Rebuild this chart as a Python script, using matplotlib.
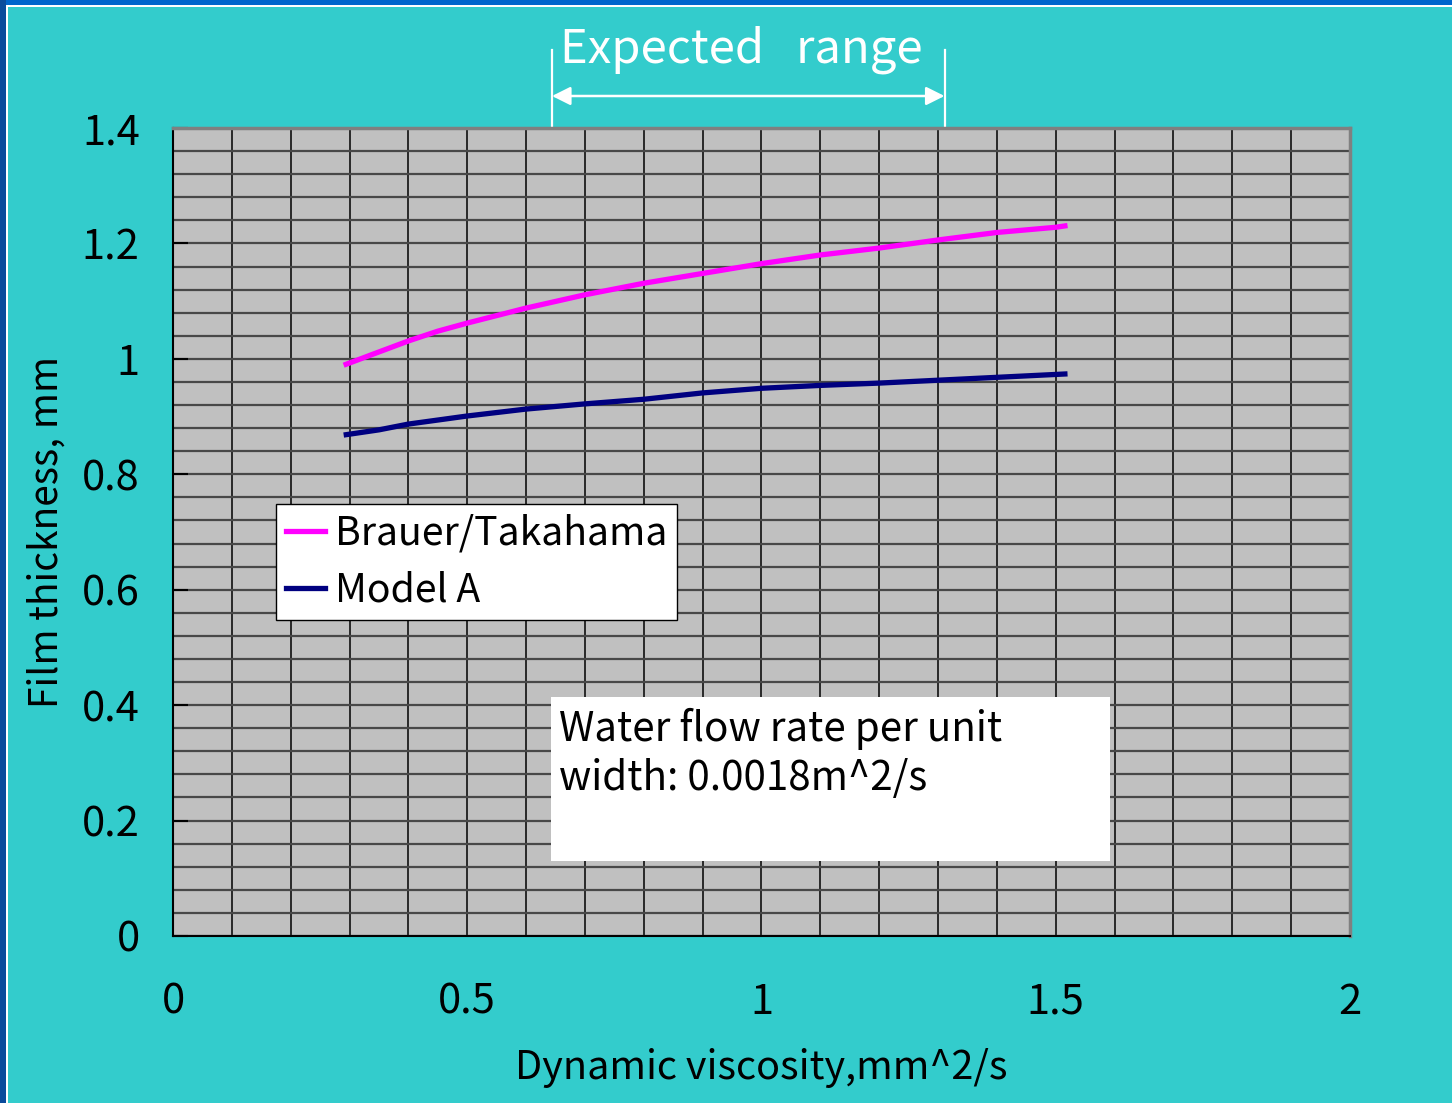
import matplotlib
matplotlib.use("Agg")
import matplotlib.pyplot as plt
from matplotlib.patches import Rectangle
from matplotlib.lines import Line2D
from matplotlib.ticker import MultipleLocator

plt.rcParams['font.family'] = ['Noto Sans CJK JP', 'DejaVu Sans']

# Film thickness vs. dynamic viscosity
viscosity = [0.29, 0.35, 0.4, 0.45, 0.5, 0.6, 0.7, 0.8, 0.9, 1.0, 1.1, 1.2, 1.3,
             1.4, 1.5, 1.52]
brauer = [0.989, 1.012, 1.031, 1.048, 1.062, 1.088, 1.111, 1.131, 1.148, 1.165,
          1.180, 1.192, 1.206, 1.219, 1.228, 1.231]
model_a = [0.868, 0.877, 0.887, 0.894, 0.901, 0.913, 0.922, 0.930, 0.941, 0.949,
           0.954, 0.958, 0.963, 0.968, 0.973, 0.974]

expected_range = (0.644, 1.311)
x_ticks = [0, 0.5, 1, 1.5, 2]
x_tick_labels = ['0', '0.5', '1', '1.5', '2']
y_ticks = [0, 0.2, 0.4, 0.6, 0.8, 1.0, 1.2, 1.4]
y_tick_labels = ['0', '0.2', '0.4', '0.6', '0.8', '1', '1.2', '1.4']

W, H = 1452, 1103
fig = plt.figure(figsize=(W / 100, H / 100), dpi=100)
fig.patch.set_facecolor('#33CCCC')

# slide frame: blue edge with a thin white rule
fig.patches.append(Rectangle((0, 1 - 5 / H), 1, 5 / H, transform=fig.transFigure,
                             facecolor='#0066CC', edgecolor='none', zorder=0))
fig.patches.append(Rectangle((0, 1 - 7 / H), 1, 2 / H, transform=fig.transFigure,
                             facecolor='white', edgecolor='none', zorder=0))
fig.patches.append(Rectangle((0, 0), 6 / W, 1, transform=fig.transFigure,
                             facecolor='#0A4C9C', edgecolor='none', zorder=0))
fig.patches.append(Rectangle((6 / W, 0), 2 / W, 1 - 5 / H, transform=fig.transFigure,
                             facecolor='white', edgecolor='none', zorder=0))

ax = fig.add_axes([173 / W, 1 - 936 / H, (1350 - 173) / W, (936 - 128) / H])
ax.set_facecolor('#C0C0C0')
ax.set_xlim(0, 2)
ax.set_ylim(0, 1.4)

ax.set_xticks(x_ticks)
ax.set_xticklabels(x_tick_labels)
ax.set_yticks(y_ticks)
ax.set_yticklabels(y_tick_labels)
ax.xaxis.set_minor_locator(MultipleLocator(0.1))
ax.yaxis.set_minor_locator(MultipleLocator(0.04))
ax.tick_params(axis='y', which='major', direction='in', length=11, width=1.5,
               color='black', labelsize=30, pad=24)
ax.tick_params(axis='x', which='major', length=0, labelsize=30, pad=33)
ax.tick_params(which='minor', length=0)

ax.grid(True, axis='x', which='both', color='black', linewidth=1.1)
ax.grid(True, axis='y', which='both', color='#484848', linewidth=1.6)
ax.set_axisbelow(True)

for side in ['left', 'bottom']:
    ax.spines[side].set_color('black')
    ax.spines[side].set_linewidth(1.5)
for side in ['top', 'right']:
    ax.spines[side].set_color('#808080')
    ax.spines[side].set_linewidth(2.5)

ax.plot(viscosity, brauer, color='#FF00FF', linewidth=3.8, solid_capstyle='butt')
ax.plot(viscosity, model_a, color='#000080', linewidth=3.8, solid_capstyle='butt')

ax.set_xlabel('Dynamic viscosity,mm^2/s', fontsize=28.5, labelpad=18)
ax.set_ylabel('Film thickness, mm', fontsize=28, labelpad=11)

# legend
handles = [Line2D([], [], color='#FF00FF', linewidth=3.8),
           Line2D([], [], color='#000080', linewidth=3.8)]
leg = ax.legend(handles, ['Brauer/Takahama', 'Model A'], fontsize=28.2,
                loc='upper left', bbox_to_anchor=((276 - 173) / 1177, (936 - 504) / 808),
                frameon=True, fancybox=False, framealpha=1, edgecolor='black',
                handlelength=1.0, handletextpad=0.25, borderpad=0.25,
                labelspacing=0.42, borderaxespad=0)
leg.get_frame().set_linewidth(1.0)

# flow-rate note
note_x0, note_x1 = (551 - 173) / 1177, (1110 - 173) / 1177
note_y0, note_y1 = (936 - 861) / 808, (936 - 697) / 808
ax.add_patch(Rectangle((note_x0, note_y0), note_x1 - note_x0, note_y1 - note_y0,
                       transform=ax.transAxes, facecolor='white', edgecolor='none',
                       zorder=5))
ax.text((559 - 173) / 1177, (936 - 708) / 808,
        'Water flow rate per unit\nwidth: 0.0018m^2/s', transform=ax.transAxes,
        fontsize=29, va='top', ha='left', linespacing=1.25, zorder=6)

# expected viscosity range marker above the plot
lo, hi = expected_range
for xv in expected_range:
    ax.plot([xv, xv], [1.0, (936 - 50) / 808], color='white', linewidth=1.6,
            transform=ax.get_xaxis_transform(), clip_on=False)
ax.annotate('', xy=(hi, (936 - 96) / 808), xytext=(lo, (936 - 96) / 808),
            xycoords=ax.get_xaxis_transform(), textcoords=ax.get_xaxis_transform(),
            arrowprops=dict(arrowstyle='<|-|>', color='white', lw=1.8,
                            mutation_scale=28, shrinkA=0, shrinkB=0))
ax.text((lo + hi) / 2 - 0.012, (936 - 50) / 808, 'Expected   range', color='white',
        fontsize=34, ha='center', va='center', transform=ax.get_xaxis_transform())

fig.savefig('out.png', dpi=100, facecolor=fig.get_facecolor())
